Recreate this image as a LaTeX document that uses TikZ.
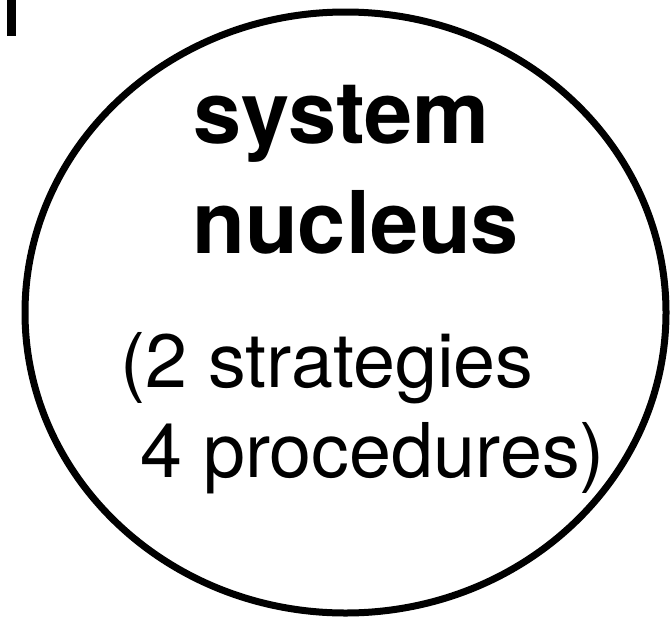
\documentclass[tikz,border=0pt]{standalone}
\usepackage{fontspec}
\setmainfont{TeX Gyre Heros}
\usetikzlibrary{shapes.geometric, positioning}
\tikzset{
nucleus/.style={ellipse, draw, line width=7pt, inner sep=0pt}, % the big round outline
title/.style={font=\fontsize{86.5}{110}\selectfont\bfseries, inner sep=0pt, anchor=base west}, % bold heading lines
count/.style={font=\fontsize{75.5}{90}\selectfont, inner sep=0pt, anchor=base west}, % plain lines inside
}

\begin{document}
\begin{tikzpicture}[x=1pt,y=-1pt]
\useasboundingbox (0,0) rectangle (671,616);
\fill (7,0) rectangle (16,36); % stray mark, top left
\node[nucleus, minimum width=641pt, minimum height=601pt] (core) at (345.5,312.5) {};
\node[title] (sys) at (193,143) {system};
\node[title] (nuc) at (192,253) {nucleus};
\node[count] (strat) at (120,387) {(2 strategies};
\node[count] (proc) at (140,477) {4 procedures)};
\end{tikzpicture}
\end{document}
